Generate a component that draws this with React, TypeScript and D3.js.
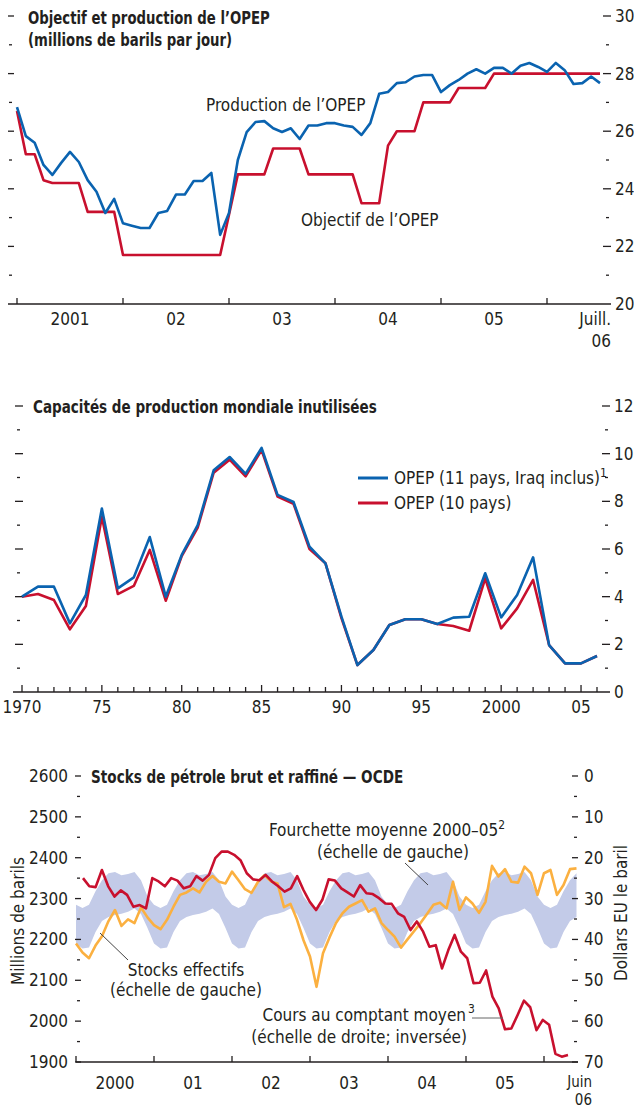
import React, { useEffect, useRef } from 'react';
import * as d3 from 'd3';

// Objectif et production de l'OPEP, monthly, Jan 2001 - Jul 2006 (millions b/j)
const opecProduction = [
  26.84, 25.83, 25.6, 24.83, 24.48, 24.9, 25.28, 24.93, 24.3, 23.9, 23.16, 23.65,
  22.8, 22.72, 22.64, 22.64, 23.16, 23.23, 23.8, 23.8, 24.27, 24.27, 24.55, 22.4,
  23.16, 25.0, 25.97, 26.32, 26.35, 26.1, 25.97, 26.1, 25.73, 26.2, 26.2, 26.28,
  26.28, 26.2, 26.15, 25.87, 26.28, 27.3, 27.36, 27.67, 27.7, 27.9, 27.95, 27.95,
  27.36, 27.6, 27.78, 28.0, 28.15, 28.0, 28.2, 28.2, 28.0, 28.27, 28.37, 28.23,
  28.06, 28.37, 28.12, 27.64, 27.67, 27.9, 27.67,
];
const opecTarget = [
  26.7, 25.2, 25.2, 24.3, 24.2, 24.2, 24.2, 24.2, 23.2, 23.2, 23.2, 23.2,
  21.7, 21.7, 21.7, 21.7, 21.7, 21.7, 21.7, 21.7, 21.7, 21.7, 21.7, 21.7,
  23.1, 24.5, 24.5, 24.5, 24.5, 25.4, 25.4, 25.4, 25.4, 24.5, 24.5, 24.5,
  24.5, 24.5, 24.5, 23.5, 23.5, 23.5, 25.5, 26.0, 26.0, 26.0, 27.0, 27.0,
  27.0, 27.0, 27.5, 27.5, 27.5, 27.5, 28.0, 28.0, 28.0, 28.0, 28.0, 28.0,
  28.0, 28.0, 28.0, 28.0, 28.0, 28.0, 28.0,
];
const topYearLabels = ['2001', '02', '03', '04', '05'];

// Capacités de production mondiale inutilisées, annual 1970-2006
const spareFirstYear = 1970;
const spareOpec11 = [
  4.0, 4.42, 4.42, 2.88, 4.07, 7.7, 4.35, 4.81, 6.5, 4.0,
  5.75, 7.0, 9.3, 9.86, 9.15, 10.24, 8.27, 7.97, 6.1, 5.4,
  3.16, 1.13, 1.76, 2.81, 3.05, 3.05, 2.85, 3.12, 3.16, 4.98,
  3.13, 4.07, 5.65, 1.97, 1.2, 1.2, 1.51,
];
const spareOpec10 = [
  4.0, 4.11, 3.86, 2.63, 3.61, 7.35, 4.11, 4.45, 5.96, 3.83,
  5.7, 6.9, 9.2, 9.75, 9.05, 10.15, 8.2, 7.9, 6.0, 5.4,
  3.1, 1.13, 1.76, 2.81, 3.05, 3.05, 2.85, 2.77, 2.57, 4.77,
  2.67, 3.51, 4.7, 1.97, 1.2, 1.2, 1.51,
];
const midYearLabels = ['1970', '75', '80', '85', '90', '95', '2000', '05'];

// Stocks OCDE, monthly Jan 2000 - Jun 2006 (millions de barils)
const stocksActual = [
  2190, 2168, 2154, 2185, 2208, 2245, 2272, 2233, 2249, 2240, 2278, 2254,
  2235, 2225, 2248, 2280, 2309, 2315, 2325, 2315, 2341, 2355, 2341, 2337,
  2366, 2345, 2323, 2314, 2341, 2357, 2342, 2337, 2279, 2287, 2248, 2198,
  2158, 2084, 2166, 2205, 2240, 2264, 2280, 2288, 2296, 2268, 2276, 2240,
  2223, 2207, 2180, 2200, 2220, 2240, 2262, 2285, 2290, 2276, 2341, 2272,
  2303, 2288, 2265, 2292, 2380, 2354, 2372, 2341, 2339, 2378, 2362, 2309,
  2362, 2370, 2309, 2333, 2372, 2374,
];
// Fourchette moyenne 2000-05, by calendar month (Jan..Dec)
const bandLow = [2190, 2178, 2180, 2218, 2245, 2255, 2260, 2263, 2268, 2276, 2262, 2228];
const bandHigh = [2285, 2277, 2285, 2318, 2345, 2362, 2365, 2357, 2360, 2365, 2345, 2305];
// Cours au comptant moyen, monthly Jan 2000 - Jun 2006 ($ le baril)
const spotPrice = [
  25.0, 27.0, 27.2, 23.0, 27.0, 29.5, 28.0, 29.1, 32.0, 31.6, 32.4, 25.0,
  25.8, 27.0, 25.0, 25.6, 27.5, 27.0, 24.5, 25.6, 24.2, 20.1, 18.5, 18.5,
  19.3, 20.6, 23.8, 25.3, 25.5, 24.2, 25.8, 27.0, 28.3, 27.5, 24.5, 27.9,
  30.8, 32.8, 30.3, 25.3, 25.6, 27.5, 28.5, 29.5, 26.7, 28.7, 28.9, 29.9,
  31.2, 31.3, 33.6, 34.5, 37.7, 35.6, 38.1, 41.8, 41.4, 47.1, 42.6, 38.9,
  43.0, 44.6, 50.7, 50.6, 47.6, 54.0, 56.9, 62.0, 61.8, 58.5, 55.0, 56.6,
  62.2, 59.7, 60.9, 68.0, 68.7, 68.3,
];
const bottomYearLabels = ['2000', '01', '02', '03', '04', '05'];
const leftStockTicks = [1900, 2000, 2100, 2200, 2300, 2400, 2500, 2600];
const rightPriceTicks = [0, 10, 20, 30, 40, 50, 60, 70];

const FONT = "'Liberation Sans Narrow', 'Arial Narrow', 'DejaVu Sans Condensed', sans-serif";
const INK = '#231f20';
const BLUE = '#0a63b0';
const RED = '#c8102e';
const ORANGE = '#fbb040';
const BAND = '#c3cbe8';

const App = () => {
  const ref = useRef<SVGSVGElement | null>(null);

  useEffect(() => {
    document.body.style.margin = '0';
    const svg = d3.select(ref.current);
    svg.selectAll('*').remove();

    // text helper; titles are squeezed horizontally to mimic the condensed bold face
    const txt = (x: number, y: number, s: string, o: any = {}) => {
      const t = svg.append('text')
        .attr('font-family', FONT)
        .attr('font-size', o.size || 17)
        .attr('font-weight', o.bold ? 'bold' : 'normal')
        .attr('text-anchor', o.anchor || 'start')
        .attr('fill', INK)
        .text(s);
      if (o.sx) t.attr('transform', `translate(${x},${y}) scale(${o.sx},1)`);
      else t.attr('x', x).attr('y', y);
      return t;
    };
    const seg = (x1: number, y1: number, x2: number, y2: number, w = 1.3, c = INK) =>
      svg.append('line')
        .attr('x1', x1).attr('y1', y1).attr('x2', x2).attr('y2', y2)
        .attr('stroke', c).attr('stroke-width', w);

    // ---------- panel 1 ----------
    const x1 = d3.scaleLinear().domain([0, 66]).range([17, 600]);
    const y1 = d3.scaleLinear().domain([20, 30]).range([304, 16]);

    d3.range(21, 31).forEach(v => {
      const major = v % 2 === 0;
      seg(major ? 8 : 9, y1(v), major ? 14 : 12, y1(v));
      seg(major ? 603 : 606, y1(v), major ? 611 : 609, y1(v));
      if (major) txt(615, y1(v) + 6, String(v));
    });
    txt(615, y1(20) + 6, '20');
    seg(8, y1(20), 611, y1(20));
    d3.range(0, 61, 12).forEach(m => seg(x1(m), 298, x1(m), 304));
    topYearLabels.forEach((l, i) => txt(x1(6 + 12 * i), 325, l, { anchor: 'middle' }));
    txt(611, 325, 'Juill.', { anchor: 'end' });
    txt(611, 347, '06', { anchor: 'end' });

    const line1 = d3.line<number>().x((_, i) => x1(i)).y(d => y1(d));
    svg.append('path').attr('d', line1(opecTarget)).attr('fill', 'none')
      .attr('stroke', RED).attr('stroke-width', 2.6).attr('stroke-linejoin', 'round');
    svg.append('path').attr('d', line1(opecProduction)).attr('fill', 'none')
      .attr('stroke', BLUE).attr('stroke-width', 2.6).attr('stroke-linejoin', 'round');

    txt(28, 24, 'Objectif et production de l’OPEP', { bold: true, size: 18, sx: 0.82 });
    txt(28, 46, '(millions de barils par jour)', { bold: true, size: 18, sx: 0.82 });
    txt(206, 111, 'Production de l’OPEP');
    txt(301, 226, 'Objectif de l’OPEP');

    // ---------- panel 2 ----------
    const x2 = d3.scaleLinear().domain([1970, 2006]).range([22, 597]);
    const y2 = d3.scaleLinear().domain([0, 12]).range([692, 406]);

    d3.range(1, 13).forEach(v => {
      const major = v % 2 === 0;
      seg(major ? 15 : 17, y2(v), major ? 23 : 20, y2(v));
      seg(major ? 602 : 605, y2(v), major ? 610 : 608, y2(v));
      if (major) txt(614, y2(v) + 6, String(v));
    });
    txt(614, y2(0) + 6, '0');
    seg(13, y2(0), 610, y2(0));
    d3.range(1970, 2007).forEach(yr => seg(x2(yr), yr % 5 === 0 ? 685 : 687, x2(yr), 692));
    midYearLabels.forEach((l, i) => txt(x2(1970 + 5 * i), 713, l, { anchor: 'middle' }));

    const line2 = d3.line<number>().x((_, i) => x2(spareFirstYear + i)).y(d => y2(d));
    svg.append('path').attr('d', line2(spareOpec10)).attr('fill', 'none')
      .attr('stroke', RED).attr('stroke-width', 2.6).attr('stroke-linejoin', 'round');
    svg.append('path').attr('d', line2(spareOpec11)).attr('fill', 'none')
      .attr('stroke', BLUE).attr('stroke-width', 2.6).attr('stroke-linejoin', 'round');

    txt(33, 413, 'Capacités de production mondiale inutilisées', { bold: true, size: 18, sx: 0.835 });
    seg(358, 478, 388, 478, 3, BLUE);
    seg(358, 503, 388, 503, 3, RED);
    const lg = txt(394, 484, 'OPEP (11 pays, Iraq inclus)');
    lg.append('tspan').attr('dy', -7).attr('font-size', 12).text('1');
    txt(394, 509, 'OPEP (10 pays)');

    // ---------- panel 3 ----------
    const x3 = d3.scaleLinear().domain([0, 77]).range([76, 576.5]);
    const xPrice = d3.scaleLinear().domain([0, 77]).range([83, 568]);
    const yL = d3.scaleLinear().domain([1900, 2600]).range([1062, 776]);
    const yR = d3.scaleLinear().domain([0, 70]).range([776, 1062]);

    const months = d3.range(0, stocksActual.length);
    const area = d3.area<number>()
      .x(m => x3(m))
      .y0(m => yL(bandLow[m % 12]))
      .y1(m => yL(bandHigh[m % 12]));
    svg.append('path').attr('d', area(months)).attr('fill', BAND);

    const lineStock = d3.line<number>().x((_, i) => x3(i)).y(d => yL(d));
    svg.append('path').attr('d', lineStock(stocksActual)).attr('fill', 'none')
      .attr('stroke', ORANGE).attr('stroke-width', 2.6).attr('stroke-linejoin', 'round');
    const linePrice = d3.line<number>().x((_, i) => xPrice(i)).y(d => yR(d));
    svg.append('path').attr('d', linePrice(spotPrice)).attr('fill', 'none')
      .attr('stroke', RED).attr('stroke-width', 2.6).attr('stroke-linejoin', 'round');

    leftStockTicks.forEach(v => {
      seg(75, yL(v), 81, yL(v));
      txt(68, yL(v) + 6, String(v), { anchor: 'end' });
      if (v < 2600) seg(77, yL(v + 50), 80, yL(v + 50));
    });
    rightPriceTicks.forEach(v => {
      seg(572, yR(v), 578, yR(v));
      txt(584, yR(v) + 6, String(v));
      if (v < 70) seg(574, yR(v + 5), 577, yR(v + 5));
    });
    seg(76, yL(1900), 578, yL(1900));
    d3.range(0, 73, 12).forEach(m => seg(x3(m), 1056, x3(m), 1062));
    bottomYearLabels.forEach((l, i) => txt(x3(6 + 12 * i), 1089, l, { anchor: 'middle' }));
    txt(592, 1087, 'Juin', { anchor: 'end', size: 15 });
    txt(592, 1105, '06', { anchor: 'end', size: 15 });

    svg.append('text').attr('transform', 'translate(24,921) rotate(-90)')
      .attr('font-family', FONT).attr('font-size', 17).attr('fill', INK)
      .attr('text-anchor', 'middle').text('Millions de barils');
    svg.append('text').attr('transform', 'translate(627,913) rotate(-90)')
      .attr('font-family', FONT).attr('font-size', 17).attr('fill', INK)
      .attr('text-anchor', 'middle').text('Dollars EU le baril');

    txt(91, 783, 'Stocks de pétrole brut et raffiné — OCDE', { bold: true, size: 18, sx: 0.84 });

    const f = txt(387, 836, 'Fourchette moyenne 2000–05', { anchor: 'middle' });
    f.append('tspan').attr('dy', -7).attr('font-size', 12).text('2');
    txt(393, 858, '(échelle de gauche)', { anchor: 'middle' });
    seg(405, 863, 428, 885, 1, '#444');

    txt(186, 976, 'Stocks effectifs', { anchor: 'middle' });
    txt(186, 996, '(échelle de gauche)', { anchor: 'middle' });
    seg(100, 933, 128, 960, 1, '#444');

    txt(466, 1021, 'Cours au comptant moyen', { anchor: 'end' });
    txt(468, 1013, '3', { size: 12 });
    txt(467, 1043, '(échelle de droite; inversée)', { anchor: 'end' });
    seg(472, 1018, 503, 1018, 1, '#666');
  }, []);

  return <svg ref={ref} width={634} height={1109} style={{ display: 'block', background: '#fff' }} />;
};

export default App;
